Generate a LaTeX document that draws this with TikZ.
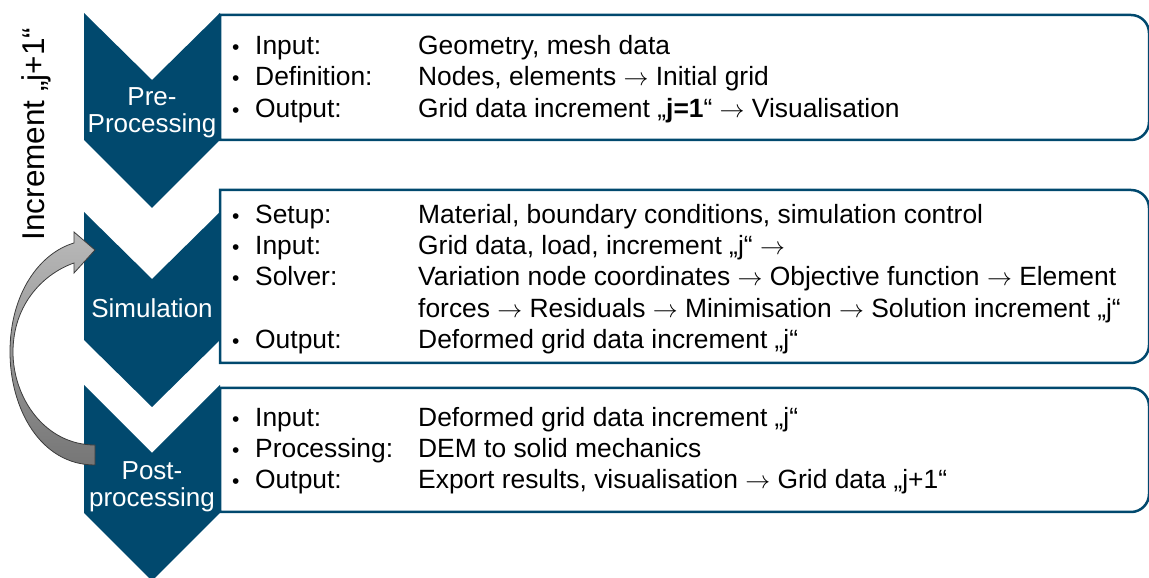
\documentclass[tikz,border=0pt]{standalone}
\usepackage{fontspec}
\setmainfont{Liberation Sans}
\definecolor{navy}{RGB}{1,73,110}
\definecolor{arrowedge}{RGB}{60,60,60}
\definecolor{arrowlight}{RGB}{185,185,185}
\definecolor{arrowdark}{RGB}{118,118,118}
\newcommand{\ra}{$\rightarrow$}
\newcommand{\bul}{{\fontsize{21}{21}\selectfont •}}
\begin{document}
\begin{tikzpicture}[x=1pt,y=1pt,
  chevron/.style={fill=navy, draw=none},
  infobox/.style={draw=navy, line width=2.5pt},
  chevlabel/.style={text=white, font=\fontsize{26}{27}\selectfont, align=center, inner sep=0pt},
  itemlist/.style={anchor=north west, inner sep=0pt, font=\fontsize{26.4}{31.3}\selectfont, text=black},
  sidelabel/.style={rotate=90, inner sep=0pt, font=\fontsize{31.5}{36}\selectfont, text=black},
  looparrow/.style={top color=arrowlight, bottom color=arrowdark, draw=arrowedge, line width=0.8pt}]
\useasboundingbox (0,0) rectangle (1149,578);

% boxes
\draw[infobox] (220,563) -- (1131,563) arc[start angle=90,end angle=0,radius=18] -- (1149,456) arc[start angle=0,end angle=-90,radius=18] -- (220,438) -- cycle;
\draw[infobox] (220,388) -- (1131,388) arc[start angle=90,end angle=0,radius=18] -- (1149,233) arc[start angle=0,end angle=-90,radius=18] -- (220,215) -- cycle;
\draw[infobox] (220,190) -- (1131,190) arc[start angle=90,end angle=0,radius=18] -- (1149,84) arc[start angle=0,end angle=-90,radius=18] -- (220,66) -- cycle;

% chevrons
\fill[chevron] (84,565) -- (152,498) -- (220,565) -- (220,438) -- (152,370) -- (84,438) -- cycle;
\fill[chevron] (84,366) -- (152,299) -- (220,366) -- (220,238) -- (152,171) -- (84,238) -- cycle;
\fill[chevron] (84,193) -- (152,125) -- (220,193) -- (220,65) -- (152,-3) -- (84,65) -- cycle;

\node[chevlabel] (pre) at (152,465) {Pre-\\Processing};
\node[chevlabel] (sim) at (152,270) {Simulation};
\node[chevlabel] (post) at (152,91) {Post-\\processing};

% loop arrow
\shade[looparrow] (95,113) .. controls (40,113) and (10,170) .. (10,226)
  .. controls (10,285) and (40,325) .. (74,335) -- (74,346) -- (95,328) -- (74,305) -- (74,315)
  .. controls (45,305) and (13,275) .. (13,226)
  .. controls (13,180) and (45,133) .. (95,133) -- cycle;

\node[sidelabel] (incr) at (36,444) {Increment „j+1“};

% item lists
\node[itemlist] (list1) at (232,545.5) {\begin{tabular}{@{}p{23pt}@{}p{163pt}@{}l@{}}
\bul & Input: & Geometry, mesh data\\
\bul & Definition: & Nodes, elements \ra{} Initial grid\\
\bul & Output: & Grid data increment „\textbf{j=1}“ \ra{} Visualisation
\end{tabular}};

\node[itemlist] (list2) at (232,377) {\begin{tabular}{@{}p{23pt}@{}p{163pt}@{}l@{}}
\bul & Setup: & Material, boundary conditions, simulation control\\
\bul & Input: & Grid data, load, increment „j“ \ra\\
\bul & Solver: & Variation node coordinates \ra{} Objective function \ra{} Element\\
 & & forces \ra{} Residuals \ra{} Minimisation \ra{} Solution increment „j“\\
\bul & Output: & Deformed grid data increment „j“
\end{tabular}};

\node[itemlist] (list3) at (232,174) {\begin{tabular}{@{}p{23pt}@{}p{163pt}@{}l@{}}
\bul & Input: & Deformed grid data increment „j“\\
\bul & Processing: & DEM to solid mechanics\\
\bul & Output: & Export results, visualisation \ra{} Grid data „j+1“
\end{tabular}};
\end{tikzpicture}
\end{document}
